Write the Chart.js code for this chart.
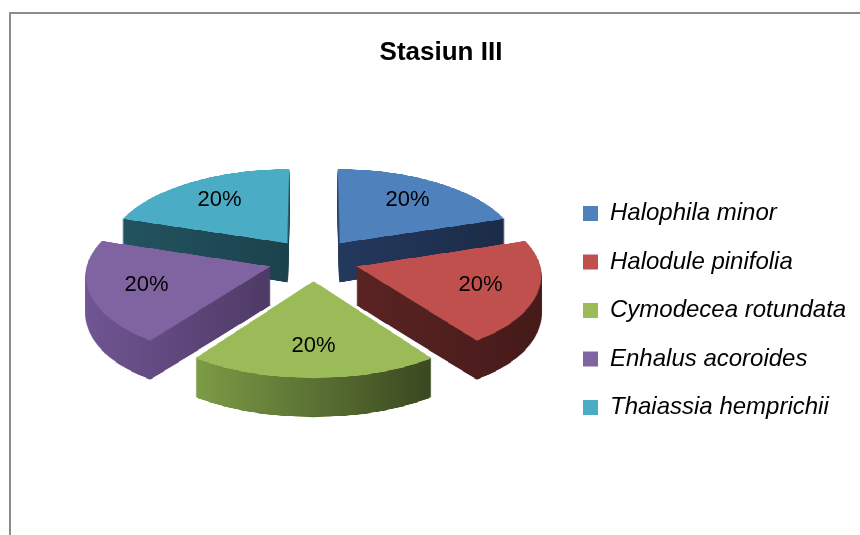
<!DOCTYPE html>
<html>
<head>
<meta charset="utf-8">
<title>Stasiun III</title>
<script src="https://cdn.jsdelivr.net/npm/chart.js@4.4.1/dist/chart.umd.min.js"></script>
<style>
  html, body { margin: 0; padding: 0; background: #fff; overflow: hidden; }
</style>
</head>
<body>
<canvas id="pieChart" width="860" height="535"></canvas>
<script>
// data
const species = ['Halophila minor', 'Halodule pinifolia', 'Cymodecea rotundata', 'Enhalus acoroides', 'Thaiassia hemprichii'];
const shares = [20, 20, 20, 20, 20];

// colours: top face and side wall (light -> dark)
const topColors = ['#4F81BD', '#C0504D', '#9BBB59', '#8064A2', '#4BACC6'];
const sideColors = [
    ['#24395e', '#1c2c48'],
    ['#5a2423', '#451a19'],
    ['#7c9b46', '#3a4820'],
    ['#6f5591', '#4e3a66'],
    ['#22535f', '#1b424c']
];

const FONT = "'Liberation Sans', Arial, sans-serif";
const TILT = 0.4617;  // squash of the pie plane
const PERSP = 2000;   // camera distance, gives the front a bit more size
const DEPTH = 39;     // slice thickness, px
const LABEL_R = 0.95; // label distance as part of the radius

function midAngle(arc) {
    return (arc.startAngle + arc.endAngle) / 2;
}

function makeCanvas(w, h) {
    const c = document.createElement('canvas');
    c.width = w;
    c.height = h;
    return c;
}

// flat point (u, v) around the centre -> screen point
function project(cx, cy, u, v) {
    const k = PERSP / (PERSP - v);
    return { x: cx + u * k, y: cy + v * TILT * k };
}

// copy a flat (top view) picture row by row into perspective
function warp(src, dst, cx, cy) {
    const half = src.width / 2;
    const yTop = cy - half * TILT * PERSP / (PERSP + half);
    const yBot = cy + half * TILT * PERSP / (PERSP - half);
    for (let Y = Math.floor(yTop); Y <= Math.ceil(yBot); Y++) {
        const t = (Y + 0.5 - cy) / TILT;
        const v = t * PERSP / (PERSP + t);
        const k = PERSP / (PERSP - v);
        const sy = Math.round(half + v);
        if (sy < 0 || sy >= src.height) continue;
        dst.drawImage(src, 0, sy, src.width, 1, cx - half * k, Y, src.width * k, 1);
    }
}

// horizontal shading across the projected slice
function sideGradient(ctx, arc, colors) {
    const shift = (arc.options.offset || 0) / 4;
    const m = midAngle(arc);
    const ou = Math.cos(m) * shift, ov = Math.sin(m) * shift;
    let minX = project(arc.x, arc.y, ou, ov).x, maxX = minX;
    for (let k = 0; k <= 24; k++) {
        const a = arc.startAngle + (arc.endAngle - arc.startAngle) * k / 24;
        const p = project(arc.x, arc.y, ou + Math.cos(a) * arc.outerRadius, ov + Math.sin(a) * arc.outerRadius);
        minX = Math.min(minX, p.x);
        maxX = Math.max(maxX, p.x);
    }
    const g = ctx.createLinearGradient(minX, 0, maxX, 0);
    g.addColorStop(0, colors[0]);
    g.addColorStop(1, colors[1]);
    return g;
}

// ==========================
// 3D look: each slice is drawn flat by Chart.js, put in perspective and extruded
// ==========================
const pie3d = {
    id: 'pie3d',
    beforeDraw(chart) {
        const ctx = chart.ctx;
        ctx.save();
        ctx.fillStyle = '#8c8c8c';
        ctx.fillRect(9, 12, 2, chart.height - 12);
        ctx.fillRect(9, 12, chart.width - 9, 2);
        ctx.restore();
    },
    afterLayout(chart) {
        // let long legend texts run past the legend box instead of being clipped
        const lg = chart.legend;
        if (lg) {
            lg.right = chart.width;
            lg.width = lg.right - lg.left;
        }
    },
    beforeDatasetsDraw(chart) {
        const ctx = chart.ctx;
        const arcs = chart.getDatasetMeta(0).data;
        const order = arcs.map((a, i) => i)
            .sort((i, j) => Math.sin(midAngle(arcs[i])) - Math.sin(midAngle(arcs[j])));

        order.forEach(i => {
            const arc = arcs[i];
            const size = Math.ceil(2 * (arc.outerRadius + (arc.options.offset || 0) / 4 + 6));

            const flat = makeCanvas(size, size);
            const fctx = flat.getContext('2d');
            fctx.translate(size / 2 - arc.x, size / 2 - arc.y);
            arc.draw(fctx);

            const top = makeCanvas(chart.width, chart.height);
            warp(flat, top.getContext('2d'), arc.x, arc.y);

            // side wall: stack the top face downwards as a mask, then colour it
            const side = makeCanvas(chart.width, chart.height);
            const sctx = side.getContext('2d');
            for (let k = DEPTH; k >= 1; k--) {
                sctx.drawImage(top, 0, k);
            }
            sctx.globalCompositeOperation = 'source-in';
            sctx.fillStyle = sideGradient(sctx, arc, sideColors[i]);
            sctx.fillRect(0, 0, side.width, side.height);

            ctx.drawImage(side, 0, 0);
            ctx.drawImage(top, 0, 0);
        });

        // percentage labels on the top faces
        const total = shares.reduce((s, v) => s + v, 0);
        ctx.save();
        ctx.font = '22px ' + FONT;
        ctx.fillStyle = '#000';
        ctx.textAlign = 'center';
        ctx.textBaseline = 'middle';
        arcs.forEach((arc, i) => {
            const m = midAngle(arc);
            const r = arc.outerRadius * LABEL_R;
            const p = project(arc.x, arc.y, Math.cos(m) * r, Math.sin(m) * r);
            ctx.fillText(Math.round(shares[i] / total * 100) + '%', p.x, p.y);
        });
        ctx.restore();
        return false;
    }
};

Chart.defaults.color = '#000';

new Chart(document.getElementById('pieChart'), {
    type: 'pie',
    data: {
        labels: species,
        datasets: [{
            data: shares,
            backgroundColor: topColors,
            borderWidth: 0,
            offset: 180,
            radius: 180
        }]
    },
    options: {
        responsive: false,
        animation: false,
        events: [],
        layout: { padding: { top: 0, bottom: 91, left: 68.5, right: 46.5 } },
        plugins: {
            title: {
                display: true,
                text: 'Stasiun III',
                color: '#000',
                font: { family: FONT, size: 26, weight: 'bold' },
                padding: { top: 37, bottom: 8 }
            },
            legend: {
                position: 'right',
                align: 'end',
                maxWidth: 255,
                labels: {
                    boxWidth: 15,
                    boxHeight: 15,
                    padding: 24.5,
                    color: '#000',
                    font: { family: FONT, size: 24, style: 'italic' }
                }
            },
            tooltip: { enabled: false }
        }
    },
    plugins: [pie3d]
});
</script>
</body>
</html>
